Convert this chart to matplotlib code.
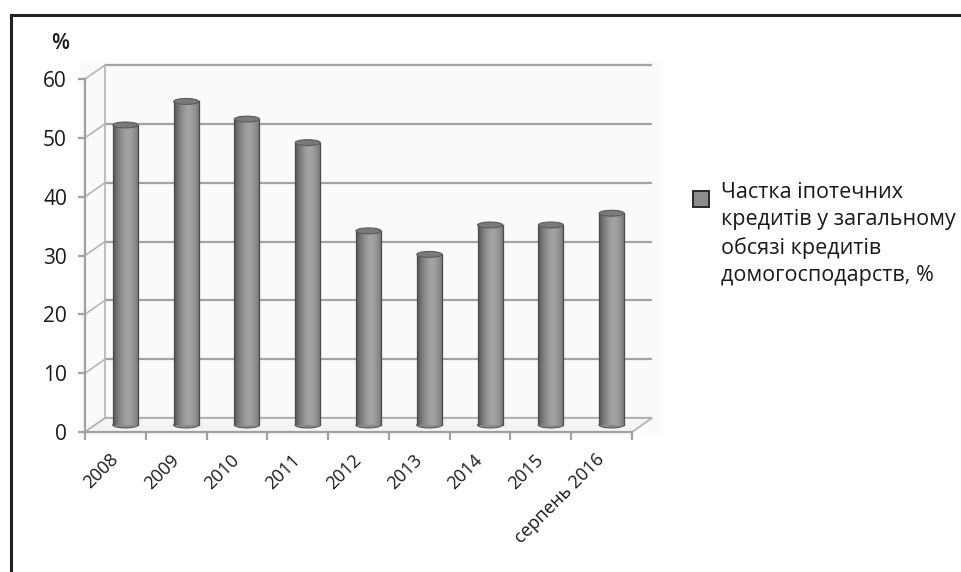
import numpy as np
import matplotlib
matplotlib.use("Agg")
import matplotlib.pyplot as plt
from matplotlib.patches import Ellipse, Rectangle, Polygon

plt.rcParams['font.family'] = ['Open Sans', 'DejaVu Sans']

# data
categories = ['2008', '2009', '2010', '2011', '2012', '2013', '2014', '2015', 'серпень 2016']
shares = [51, 55, 52, 48, 33, 29, 34, 34, 36]
yticks = [0, 10, 20, 30, 40, 50, 60]
legend_label = 'Частка іпотечних\nкредитів у загальному\nобсязі кредитів\nдомогосподарств, %'

# 3d depth offset (data units)
ddx, ddy = 0.33, 2.38
n = len(categories)

W, H = 962, 572
fig = plt.figure(figsize=(W / 100, H / 100), dpi=100)
ax = fig.add_axes([0.0820, 0.2396, 0.6066, 0.6531])

# faint plot area
ax.add_patch(Rectangle((-0.08, -0.8), 9.6, 64, facecolor='#fafafa', edgecolor='none', zorder=0))

grid_c = '#a3a3a3'
# back wall grid lines + side wall diagonals
for v in yticks:
    ax.plot([ddx, n + ddx], [v + ddy, v + ddy], color=grid_c, lw=1.6, zorder=1, solid_capstyle='butt')
    ax.plot([0, ddx], [v, v + ddy], color='#b5b5b5', lw=1.2, zorder=1)
ax.plot([ddx, ddx], [ddy, 60 + ddy], color='#b5b5b5', lw=1.2, zorder=1)
# floor
floor = Polygon([[0, 0], [n, 0], [n + ddx, ddy], [ddx, ddy]], closed=True,
                facecolor='#f4f4f4', edgecolor='#b0b0b0', lw=1.2, zorder=1)
ax.add_patch(floor)

# cylinders
w = 0.41
t = np.linspace(0, 1, 60)
shade = 0.64 - 0.30 * np.abs(t - 0.6) ** 1.6 / 0.6 ** 1.6
shade = np.clip(shade, 0.32, 0.68)
grad = np.tile(shade, (2, 1))
for i, v in enumerate(shares):
    cx = i + 0.5 + ddx / 2
    base = ddy / 2
    ax.add_patch(Ellipse((cx, base), w, 1.0, facecolor='#8a8a8a', edgecolor='#5a5a5a', lw=0.8, zorder=3))
    ax.imshow(grad, cmap='gray', vmin=0, vmax=1, aspect='auto', interpolation='bilinear',
              extent=(cx - w / 2, cx + w / 2, base, base + v), zorder=4)
    ax.plot([cx - w / 2, cx - w / 2], [base, base + v], color='#4a4a4a', lw=0.9, zorder=4.5)
    ax.plot([cx + w / 2, cx + w / 2], [base, base + v], color='#4a4a4a', lw=0.9, zorder=4.5)
    ax.add_patch(Ellipse((cx, base + v), w, 1.0, facecolor='#7a7a7a', edgecolor='#5a5a5a', lw=0.8, zorder=5))

ax.set_xlim(-0.1, 9.5)
ax.set_ylim(-0.5, 63)

# axes
for s in ['top', 'right']:
    ax.spines[s].set_visible(False)
ax.spines['left'].set_position(('data', 0))
ax.spines['bottom'].set_position(('data', 0))
ax.spines['left'].set_bounds(0, 60)
ax.spines['bottom'].set_bounds(0, n)
for s in ['left', 'bottom']:
    ax.spines[s].set_color('#a0a0a0')
    ax.spines[s].set_linewidth(1.6)
    ax.spines[s].set_zorder(2)
ax.set_yticks(yticks)
ax.set_yticklabels([str(tk) for tk in yticks], fontsize=15, color='#1a1a1a')
ax.tick_params(axis='y', length=5, width=1.6, color='#a0a0a0', pad=8)
ax.set_xticks(np.arange(n + 1), minor=True)
ax.set_xticks(np.arange(n) + 0.5)
ax.set_xticklabels(categories, rotation=45, ha='right', va='center', rotation_mode='anchor',
                   fontsize=13, color='#1a1a1a')
ax.tick_params(axis='x', which='major', length=0, pad=18)
ax.tick_params(axis='x', which='minor', length=6, width=1.6, color='#a0a0a0')
ax.patch.set_visible(False)

fig.text(60 / W, 1 - 43.5 / H, '%', fontsize=15, fontweight='semibold', ha='center', va='center', color='#1a1a1a')

# legend
fig.add_artist(Rectangle((693 / W, 1 - 207 / H), 16 / W, 16 / H, transform=fig.transFigure,
                         facecolor='#8c8c8c', edgecolor='#2a2a2a', lw=1.4))
fig.text(721 / W, 1 - 182 / H, legend_label, fontsize=15.5, ha='left', va='top',
         linespacing=1.4, color='#1a1a1a')

# outer frame
fig.add_artist(Rectangle((11 / W, -0.1), 1.2, 1.1 - 15 / H, transform=fig.transFigure,
                         fill=False, edgecolor='#222222', lw=2.2))

fig.savefig('out.png', dpi=100)
